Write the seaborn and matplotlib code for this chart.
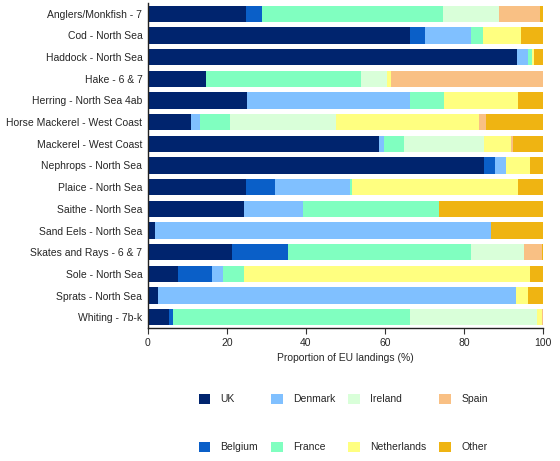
import numpy as np
import pandas as pd
import matplotlib
matplotlib.use("Agg")
import matplotlib.pyplot as plt
import seaborn as sns

stocks = ["Anglers/Monkfish - 7", "Cod - North Sea", "Haddock - North Sea", "Hake - 6 & 7",
          "Herring - North Sea 4ab", "Horse Mackerel - West Coast", "Mackerel - West Coast",
          "Nephrops - North Sea", "Plaice - North Sea", "Saithe - North Sea",
          "Sand Eels - North Sea", "Skates and Rays - 6 & 7", "Sole - North Sea",
          "Sprats - North Sea", "Whiting - 7b-k"]

uk = [24.8, 66.3, 93.4, 14.7, 25.0, 10.9, 58.6, 85.2, 24.8, 24.3, 1.9, 21.3, 7.7, 2.6, 5.4]
belgium = [4.1, 3.9, 0, 0, 0, 0, 0, 2.6, 7.3, 0, 0, 14.1, 8.5, 0, 1.0]
denmark = [0, 11.5, 2.8, 0, 41.3, 2.3, 1.1, 2.9, 19.1, 15.0, 84.9, 0, 2.8, 90.5, 0]
france = [45.8, 3.0, 1.0, 39.2, 8.6, 7.6, 5.2, 0, 0.4, 34.4, 0, 46.4, 5.3, 0, 59.9]
ireland = [14.2, 0, 0, 6.5, 0, 26.8, 20.2, 0, 0, 0, 0, 13.3, 0, 0, 32.2]
netherlands = [0, 9.7, 0.5, 1.2, 18.9, 36.2, 6.8, 6.0, 42.2, 0, 0, 0, 72.3, 3.2, 1.3]
spain = [10.3, 0, 0, 38.4, 0, 1.9, 0.6, 0, 0, 0, 0, 4.7, 0, 0, 0.2]
other = [0.8, 5.6, 2.3, 0, 6.2, 14.3, 7.5, 3.3, 6.2, 26.3, 13.2, 0.2, 3.4, 3.7, 0]

countries = ["UK", "Belgium", "Denmark", "France", "Ireland", "Netherlands", "Spain", "Other"]
colors = ["#00246e", "#0a5fc8", "#80c0ff", "#80ffc0", "#d9ffd9", "#ffff80", "#f9c084", "#efb412"]

df = pd.DataFrame({"UK": uk, "Belgium": belgium, "Denmark": denmark, "France": france,
                   "Ireland": ireland, "Netherlands": netherlands, "Spain": spain,
                   "Other": other}, index=stocks)
cum = df[countries].cumsum(axis=1)

sns.set_style("white")
plt.rcParams["font.family"] = ["Liberation Sans", "DejaVu Sans"]

fig = plt.figure(figsize=(5.6, 4.61), dpi=100)
ax = fig.add_axes([0.264, 0.2885, 0.7056, 0.705])

# stacked bars: draw cumulative totals back to front
for c, col in reversed(list(zip(countries, colors))):
    sns.barplot(x=cum[c].values, y=stocks, color=col, orient="h", width=0.74,
                ax=ax, label=c, linewidth=0, saturation=1)

ax.set_xlim(0, 100)
ax.set_ylim(14.5, -0.5)
ax.set_xticks([0, 20, 40, 60, 80, 100])
ax.tick_params(axis="x", length=4, width=0.8, labelsize=7.5, direction="out", pad=3,
               bottom=True, color="#333333")
ax.tick_params(axis="y", length=0, labelsize=7.5, pad=4)
for s in ["top", "right"]:
    ax.spines[s].set_visible(False)
for s in ["left", "bottom"]:
    ax.spines[s].set_color("#222222")
    ax.spines[s].set_linewidth(1.0)
ax.set_xlabel("Proportion of EU landings (%)", fontsize=7.5, labelpad=4)
ax.set_ylabel("")

handles, labels = ax.get_legend_handles_labels()
order = [labels.index(c) for c in countries]
ax.legend([handles[i] for i in order], [labels[i] for i in order], ncol=4,
          loc="upper left", bbox_to_anchor=(0.338, 0.166), bbox_transform=fig.transFigure,
          frameon=False, fontsize=7.5, handlelength=1.1, handleheight=1.1,
          handletextpad=1.0, columnspacing=1.25, labelspacing=3.6)

fig.savefig("out.png", dpi=100)
